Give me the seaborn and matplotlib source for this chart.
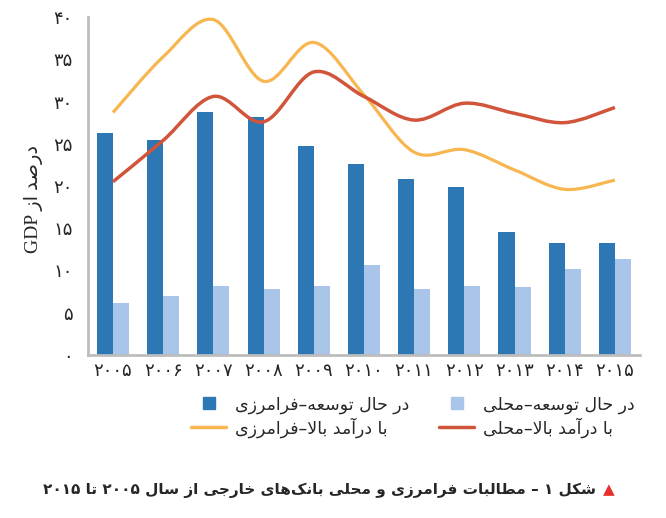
import re
import numpy as np
import pandas as pd
import matplotlib
matplotlib.use('Agg')
import matplotlib.pyplot as plt
from matplotlib.path import Path
from matplotlib.patches import PathPatch
from matplotlib.lines import Line2D
import seaborn as sns

# Data (percent of GDP)
years = ['2005', '2006', '2007', '2008', '2009', '2010', '2011', '2012', '2013', '2014', '2015']
dev_cross = [26.3, 25.5, 28.8, 28.2, 24.7, 22.6, 20.8, 19.9, 14.6, 13.3, 13.3]
dev_local = [6.1, 7.0, 8.2, 7.8, 8.2, 10.6, 7.8, 8.2, 8.0, 10.2, 11.4]
high_cross = [28.7, 35.3, 39.7, 32.4, 37.0, 30.8, 24.0, 24.3, 21.9, 19.6, 20.7]
high_local = [20.5, 25.4, 30.6, 27.6, 33.5, 30.6, 27.8, 29.8, 28.6, 27.5, 29.3]
yticks = [0, 5, 10, 15, 20, 25, 30, 35, 40]

lbl_dev_cross = 'در حال توسعه–فرامرزی'
lbl_dev_local = 'در حال توسعه–محلی'
lbl_high_cross = 'با درآمد بالا–فرامرزی'
lbl_high_local = 'با درآمد بالا–محلی'
ylabel = 'درصد از GDP'
title = 'شکل ۱ – مطالبات فرامرزی و محلی بانک\u200cهای خارجی از سال ۲۰۰۵ تا ۲۰۱۵'

c_dark = '#2E77B5'
c_light = '#A9C5E9'
c_orange = '#F8B650'
c_red = '#D0553B'

# matplotlib does no Arabic shaping, so pick presentation forms by hand
FORMS = {
    'ا': (0xFE8D, 2), 'آ': (0xFE81, 2), 'ب': (0xFE8F, 4), 'ت': (0xFE95, 4),
    'ج': (0xFE9D, 4), 'ح': (0xFEA1, 4), 'خ': (0xFEA5, 4), 'د': (0xFEA9, 2),
    'ر': (0xFEAD, 2), 'ز': (0xFEAF, 2), 'س': (0xFEB1, 4), 'ش': (0xFEB5, 4),
    'ص': (0xFEB9, 4), 'ط': (0xFEC1, 4), 'ع': (0xFEC9, 4), 'ف': (0xFED1, 4),
    'ل': (0xFEDD, 4), 'م': (0xFEE1, 4), 'ن': (0xFEE5, 4), 'ه': (0xFEE9, 4),
    'و': (0xFEED, 2), 'ک': (0xFB8E, 4), 'ی': (0xFBFC, 4),
}
PERSIAN_DIGITS = str.maketrans('0123456789', '۰۱۲۳۴۵۶۷۸۹')


def shape(s):
    out = []
    i = 0
    while i < len(s):
        ch = s[i]
        if ch not in FORMS:
            out.append(ch)
            i += 1
            continue
        prev = s[i - 1] if i > 0 else ''
        joins_prev = prev in FORMS and FORMS[prev][1] == 4
        nxt = s[i + 1] if i + 1 < len(s) else ''
        if ch == 'ل' and nxt in ('ا', 'آ'):
            base = 0xFEFB if nxt == 'ا' else 0xFEF5
            out.append(chr(base + (1 if joins_prev else 0)))
            i += 2
            continue
        base, k = FORMS[ch]
        joins_next = k == 4 and nxt in FORMS
        if joins_prev and joins_next:
            idx = 3
        elif joins_prev:
            idx = 1
        elif joins_next:
            idx = 2
        else:
            idx = 0
        out.append(chr(base + idx))
        i += 1
    vis = ''.join(out).replace('\u200c', '')[::-1]
    # keep numbers and latin words left-to-right
    return re.sub(r'[0-9A-Za-z\u06F0-\u06F9]+', lambda m: m.group(0)[::-1], vis)


df = pd.DataFrame({
    'year': years * 2,
    'value': dev_cross + dev_local,
    'series': ['cross'] * len(years) + ['local'] * len(years),
})

sns.set_style('white')
plt.rcParams['font.family'] = ['DejaVu Sans']

fig = plt.figure(figsize=(6.66, 5.18), dpi=100)
ax = fig.add_axes([0.132, 0.315, 0.829, 0.652])

sns.barplot(data=df, x='year', y='value', hue='series', palette=[c_dark, c_light],
            width=0.64, gap=0, saturation=1, legend=False, linewidth=0, ax=ax)


def smooth_path(vals):
    # cubic bezier segments through the points (Catmull-Rom style smoothing)
    pts = np.column_stack([np.arange(len(vals)), vals]).astype(float)
    ext = np.vstack([pts[0], pts, pts[-1]])
    verts = [pts[0]]
    codes = [Path.MOVETO]
    for i in range(len(pts) - 1):
        p0, p1, p2, p3 = ext[i], ext[i + 1], ext[i + 2], ext[i + 3]
        verts += [p1 + (p2 - p0) / 6, p2 - (p3 - p1) / 6, p2]
        codes += [Path.CURVE4] * 3
    return Path(verts, codes)


ax.add_patch(PathPatch(smooth_path(high_cross), facecolor='none', edgecolor=c_orange,
                       lw=2.3, capstyle='butt', zorder=3))
ax.add_patch(PathPatch(smooth_path(high_local), facecolor='none', edgecolor=c_red,
                       lw=2.5, capstyle='butt', zorder=4))

ax.set_xlim(-0.5, 10.5)
ax.set_ylim(0, 40)
ax.set_yticks(yticks)
ax.set_yticklabels([str(v).translate(PERSIAN_DIGITS) for v in yticks], fontsize=13)
ax.set_xticks(range(len(years)))
ax.set_xticklabels([y.translate(PERSIAN_DIGITS) for y in years], fontsize=13)
ax.set_xticks(np.arange(-0.5, 10.5, 1), minor=True)
ax.tick_params(axis='x', which='major', length=0, pad=5)
ax.tick_params(axis='x', which='minor', length=5, width=1, color='black', direction='out')
ax.tick_params(axis='y', length=5, width=1, color='black', direction='out', pad=6)
ax.set_xlabel('')
ax.set_ylabel(shape(ylabel), fontsize=14, family=['Liberation Serif', 'DejaVu Sans'])
ax.yaxis.set_label_coords(-0.082, 0.46)
sns.despine(ax=ax)
for side in ('left', 'bottom'):
    ax.spines[side].set_color('#BDBDBD')
    ax.spines[side].set_linewidth(2)

handles = [
    Line2D([], [], marker='s', linestyle='none', markersize=9, color=c_dark),
    Line2D([], [], color=c_orange, lw=2.5),
    Line2D([], [], marker='s', linestyle='none', markersize=9, color=c_light),
    Line2D([], [], color=c_red, lw=2.5),
]
labels = [shape(lbl_dev_cross), shape(lbl_high_cross), shape(lbl_dev_local), shape(lbl_high_local)]
fig.legend(handles, labels, ncol=2, loc='center', bbox_to_anchor=(0.62, 0.196),
           frameon=False, fontsize=12.5, handlelength=2.0, handletextpad=0.5,
           columnspacing=1.75, labelspacing=0.2)

fig.text(0.895, 0.054, shape(title), ha='right', va='center', fontsize=11, fontweight='bold')
fig.text(0.905, 0.054, '▲', ha='left', va='center', fontsize=11, color='#E8302A')

fig.savefig('out.png', dpi=100)
